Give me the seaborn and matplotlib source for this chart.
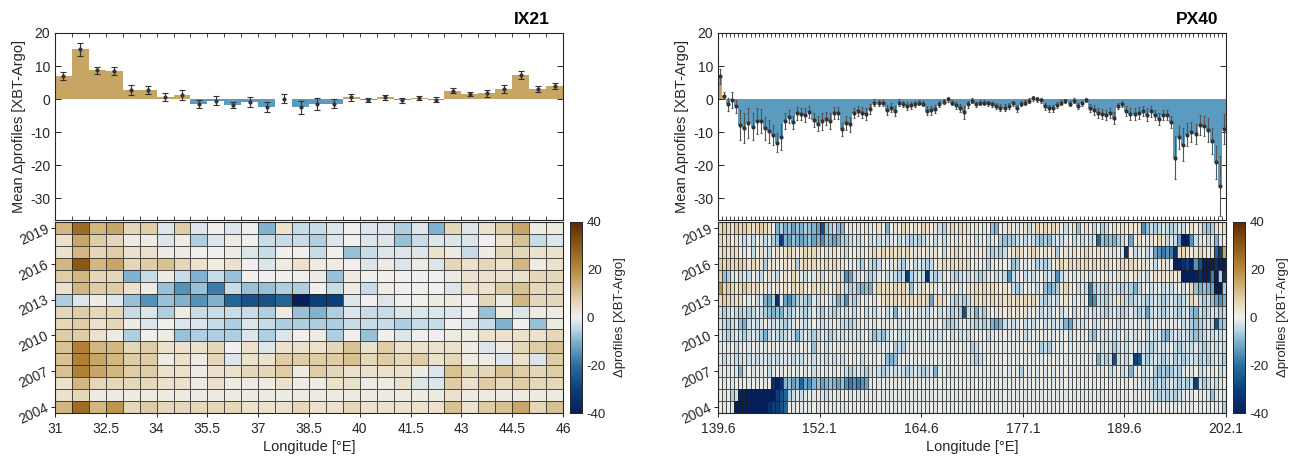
import numpy as np
import pandas as pd
import matplotlib
matplotlib.use("Agg")
import matplotlib.pyplot as plt
from matplotlib.colors import LinearSegmentedColormap
from matplotlib.ticker import FixedLocator
import seaborn as sns

# ------------------------------------------------------------------ data
years = [2019, 2018, 2017, 2016, 2015, 2014, 2013, 2012,
         2011, 2010, 2009, 2008, 2007, 2006, 2005, 2004]
year_ticks = [2019, 2016, 2013, 2010, 2007, 2004]

# IX21: 0.5 degree longitude bins from 31E to 46E
ix21_lon_start = 31.0
ix21_bin = 0.5
ix21_xticks = [31, 32.5, 34, 35.5, 37, 38.5, 40, 41.5, 43, 44.5, 46]
ix21_xticklabels = ["31", "32.5", "34", "35.5", "37", "38.5", "40", "41.5", "43", "44.5", "46"]
ix21_mean = [7.1, 15.1, 8.7, 8.4, 2.8, 2.8, 0.6, 1.2, -1.5, -0.4,
             -1.7, -0.9, -2.4, 0.2, -2.4, -1.4, -1.4, 0.6, -0.2, 0.6,
             -0.3, 0.4, -0.1, 2.6, 1.5, 1.8, 3.1, 7.3, 3.0, 4.0]
ix21_err = [1.2, 2.0, 1.0, 1.2, 1.5, 1.3, 1.2, 1.5, 1.2, 1.3,
            1.0, 1.5, 1.5, 1.3, 2.0, 1.8, 1.4, 1.0, 0.6, 0.8,
            0.8, 0.7, 0.8, 0.8, 0.6, 1.0, 1.2, 1.2, 0.9, 0.8]
# one string per year (2019 first), one character per longitude bin
ix21_rows = [
    ("fjfgcdAdA0A0EbBBA0AACAEcAbdgaa",),
    ("bgdcaaAaCAa0BBBCA0AADBAAA0beBA",),
    ("bfcdbbaa00aAB00B0DBAAAbaBaccbb",),
    ("fkfgcdecbab0Aabaa0AaAaAcbcbfab",),
    ("dfccEBaBEBD0000aDa00000abbbbcc",),
    ("bfddbaDGDHBDDCC0BaBa000Abbdecc",),
    ("CAaADGDEGEIJJIMKKA0A00aa0cafcc",),
    ("cdccBACaBBBBCaDECABBAAAA0DaAaa",),
    ("cdbcaA0AABCABCCCCBBBCBB0ABE0Da",),
    ("ddbaC0aDCCCACA0aC0D0A00aabbbbc",),
    ("eiffcdbbbc0bAbbbcebdbbbbaAacde",),
    ("eigfddabacAbbddddecdcdbcaaAbAd",),
    ("eigfddbbabbccdadcbbbbaAeccedcd",),
    ("bfccccbbabaaabaabbaabAAdbdcdcc",),
    ("bc" + "aaaaaaaaaaaaaaaaaaaaa" + "b" + "aaaaaa",),
    ("fjfhcdcccccbbbcbbcbbbbbebdegce",),
]
ix21_widths = [30]

# PX40: 0.5 degree longitude bins from 139.6E to 202.1E
px40_lon_start = 139.6
px40_bin = 0.5
px40_xticks = [139.6, 152.1, 164.6, 177.1, 189.6, 202.1]
px40_xticklabels = ["139.6", "152.1", "164.6", "177.1", "189.6", "202.1"]
px40_mean = [6.9, 1.1, -1.5, -0.3, -2.2, -7.9, -8.8, -7.1, -8.3, -6.6,
             -6.6, -8.8, -9.7, -10.8, -13.1, -11.5, -6.6, -5.3, -7.0, -4.3,
             -4.4, -4.8, -3.9, -6.3, -7.4, -6.7, -5.9, -6.6, -4.3, -4.3,
             -9.1, -7.2, -7.6, -4.3, -3.6, -4.1, -4.6, -3.0, -1.0, -1.2,
             -1.2, -3.3, -2.6, -3.7, -1.0, -1.4, -2.1, -1.9, -1.4, -1.0,
             -1.4, -3.5, -3.4, -3.0, -1.5, -0.8, 0.0, -1.0, -1.9, -2.7,
             -4.0, -1.6, -0.4, -1.5, -1.0, -1.0, -1.2, -1.6, -2.0, -2.6,
             -2.6, -2.1, -1.3, -2.8, -1.4, -1.0, -0.4, 0.3, 0.0, -0.3,
             -2.2, -2.8, -2.8, -1.8, -1.0, -0.6, -1.4, -0.4, -2.1, -1.2,
             -0.2, -2.6, -3.4, -4.2, -4.6, -4.8, -4.3, -5.7, -2.1, -1.5,
             -3.6, -4.4, -4.4, -4.3, -3.6, -4.7, -3.7, -4.8, -6.0, -4.8,
             -4.8, -6.9, -17.7, -11.5, -13.7, -10.7, -9.9, -10.5, -7.7, -8.2,
             -9.3, -12.7, -19.1, -26.3, -9.1]
px40_err = [2.2, 1.0, 2.0, 2.5, 2.0, 4.5, 4.5, 4.5, 4.0, 3.8,
            3.5, 3.5, 3.5, 3.0, 3.0, 4.0, 2.5, 2.0, 2.0, 2.0,
            1.8, 2.0, 1.8, 2.0, 2.2, 2.5, 2.0, 2.3, 1.8, 1.8,
            2.0, 2.0, 2.2, 1.5, 1.5, 1.6, 1.8, 1.5, 1.0, 1.0,
            1.0, 1.5, 1.3, 1.5, 1.0, 1.0, 1.3, 1.0, 1.0, 0.8,
            0.8, 1.3, 1.3, 1.2, 1.0, 0.8, 0.8, 0.8, 1.0, 1.3,
            2.0, 1.0, 0.7, 0.8, 0.8, 0.8, 0.8, 0.8, 0.9, 1.0,
            1.0, 0.9, 0.8, 1.0, 0.8, 0.8, 0.7, 0.7, 0.7, 0.7,
            1.0, 1.0, 1.0, 0.9, 0.8, 0.7, 0.8, 0.7, 0.9, 0.8,
            0.7, 1.2, 1.5, 1.5, 1.5, 1.5, 1.5, 1.8, 1.0, 1.0,
            1.5, 1.8, 1.8, 1.8, 1.5, 2.0, 1.6, 1.6, 1.8, 1.6,
            1.6, 1.8, 6.5, 3.5, 5.0, 3.5, 3.0, 3.0, 3.0, 3.0,
            3.5, 4.0, 5.0, 9.0, 4.5]
# each year is split into four blocks of bins (31, 31, 32, 31)
px40_widths = [31, 31, 32, 31]
px40_rows = [
    ("cdcbdcdcbcdcb" "a" "ECEDFDECDEFJDCBDE",
     "abaAabAaba" "E" "abacbabacbab" "BC" "bcbcbb",
     "abaAa" "DE" "aAbaAab" "B" "bcbcbcbaBab" "D" "abaBa",
     "CB" "abababab" "G" "DBCBABCBAB" "abab" "CDC" "bab"),
    ("cbcab" "ABABaABAC" "DK" "EFDEFEDFEGDEFEC",
     "CBABAaBABA" "BAaBABCBCB" "AaBABAaAbab",
     "aBAaBAa" "CDCC" "BABAB" "CDCD" "BABAaBABABA" "I",
     "DEDEC" "BA" "F" "abaAba" "cb" "BAB" "F" "MM" "G" "BAaBA" "E" "Aa"),
    ("bcbcbaAaBabAB" "a" "babcbabcbcbabAbab",
     "BaabAabcbc" "bcbcbcbAba" "bAbaBabcbab",
     "abab" "BCBCB" "abcbabcbabab" "C" "abAbabcbab",
     "aAbAaA" "L" "aBAaBA" "FGHGH" "L" "bcbabcbab" "IK" "g"),
    ("dcdccdcbcb" "b" "C" "aba" "abab" "C" "bcbcbbcbcbb",
     "aAaBCaBCBa" "aAbBCAaBAB" "CBabcbcbcbc",
     "aAaA" "C" "AaAaA" "DC" "aAaA" "CBCB" "abcbcbcbcbcb",
     "bcbabcbcbabAaBabAa" "MMLKMGJMMMLMM"),
    ("dDC" "AaBABaABabAB" "abacbABaAbBabAbB",
     "GF" "BAaBCBAaBABCB" "K" "CBAB" "L" "BCBAaBCBAB",
     "ABCBAaBAB" "G" "BAaBABAaBAB" "G" "BAaAaAaBAa",
     "abAabababAaBabababab" "MMMMLMM" "H" "M" "C" "L"),
    ("h" "cdcbcdcbc" "abAababa" "cbcbacbcbabcb",
     "BCB" "DEDE" "bcbcbcbcb" "D" "aAbabAaBabaBab",
     "bcbcbcbab" "aBCBaAaBa" "DEDC" "bcbaBAB" "H" "CB",
     "BCBABCBC" "E" "BAaBAaBABAaBa" "c" "DEDEF" "MM" "C"),
    ("cdccbc" "aAaBA" "EFC" "L" "A" "FGE" "CBCD" "ABAaABEC",
     "G" "BCB" "aAaAa" "bcbcbcbcbcbc" "F" "bcba" "BCBCB",
     "bcbcbcbcbcbcbcbcb" "BCBAB" "abaAaAa" "HG" "B",
     "BCBA" "bc" "BCBABCBABCBABCBA" "cb" "BCBD" "FGE"),
    ("BCBABCBCBABC" "DEDE" "BCBABCBABCABCBA",
     "BABAaBABAaBA" "E" "AaBAaBABAaBABCBC" "J" "B",
     "BEBC" "AaAbabababAaA" "BABAaBAaBAaBABA",
     "BCBABCBABCB" "F" "BABCBABCBA" "DE" "BCBABCB"),
    ("ABCBA" "DE" "BABAaABABCBAaABAaABAAaAB",
     "BCBAaAaAaAaAaBAaAaAaAaAaBCCBAaA",
     "BCBCB" "EFE" "BABAaBABAaBABAB" "EF" "BABAaBA",
     "AaAaBAaAaAaBAaAaAaAaBA" "CDC" "BAB" "J" "DC"),
    ("ABCBABCBABC" "E" "BABCBAB" "E" "BABCBABCBAB",
     "ABABAaB" "DCD" "BAaBABAaBAaBABAaBABAB",
     "AaAaBAaAaAaAaBAaAaAaAaAaBAaAa" "CD" "A",
     "ABABAaBABAaBABA" "DE" "BABAB" "CDC" "BABABA"),
    ("AaAaBAaAaAaAaAaAaAaAaAa" "D" "AaBAaAa",
     "AaAaAaAaAaAa" "CBC" "AaAaAaAaAaAaAaAa",
     "CB" "AaAaAaAaAaAaAaA" "CBC" "AaAaAaAaAaAa",
     "BABCBABAaBABCBABAaBCBABABCBABAB"),
    ("ABAAB" "B" "ABABAABABAAABABAABAABABAB",
     "AaAaBAaAaA" "DED" "AaAaAaAaAaAaAaAaAa",
     "BCB" "AaAaAaAaAaAaAaAaAaAaAaAaAaAa" "E",
     "BCB" "J" "BABA" "KJ" "BCBABCBA" "CBCBABCBCBABC"),
    ("AaAaA" "E" "AaAaAaBAaAaAaAaAaBAaAaAaA",
     "BCBABCBABCBABABCBABCBA" "E" "AaBAaAaA",
     "aAaAaAaAaAaA" "C" "aAaAaAaAaAaAaAaAaAa",
     "AaBAaBA" "E" "AaBAa" "CDCDCBC" "AaAaBAaAaBA"),
    ("aAaAaAaAaAaAa" "LML" "EDFEIFGEDFEDEFD",
     "GHGHGF" "AaAaAaAaAaAaAaAaAaAaAaAaA",
     "AaAaAaAaAaAaAaAaAaAaAaAaAaAaAaAa",
     "AaAaAaAaAaBA" "BCBCBABCBCB" "K" "BCBABAa"),
    ("aAaCB" "MMMMMMMMM" "KJI" "CBABAaAaABAaAa",
     "aAaAaAaAaAaAaAaAaAaAaAaAaAaAaAa",
     "aAaAaAaAaAaAaAaAaAaAaAaAaAaAaAaA",
     "AaAaAaAaAaAaA" "BCBCBCB" "AaAaAaA" "D" "AaA"),
    ("aAaA" "MMMMMMMMLKKJI" "aAaAaAaAaAaAaA",
     "AaAaAaAaAaAaAaAaAaAaAaAaAaAaAaA",
     "AaAaAaAaAaAaAaAaAaAaAaAaAaAaAaAa",
     "AaAaAaAaAaAaAaAaAaAaAaAaAaAaAaC"),
]

# value (XBT - Argo profile count difference) for each cell character
cell_code = {"0": 0,
             "a": 1.5, "b": 4, "c": 6, "d": 8, "e": 10, "f": 12, "g": 15,
             "h": 18, "i": 22, "j": 26, "k": 30, "l": 35, "m": 40,
             "A": -2, "B": -4, "C": -6, "D": -8, "E": -10, "F": -12, "G": -15,
             "H": -18, "I": -22, "J": -26, "K": -30, "L": -35, "M": -40}

# ------------------------------------------------------------------ style
sns.set_theme(style="ticks")
plt.rcParams["font.family"] = ["Liberation Sans", "DejaVu Sans"]
plt.rcParams["axes.unicode_minus"] = False
TEXT = "#262626"
plt.rcParams["text.color"] = TEXT
plt.rcParams["axes.labelcolor"] = TEXT
plt.rcParams["xtick.color"] = TEXT
plt.rcParams["ytick.color"] = TEXT

TAN = "#c6a565"
BLUE = "#5b9bc0"

cmap = LinearSegmentedColormap.from_list(
    "xbt_argo",
    [(0.000, "#08205a"), (0.125, "#0b3f7a"), (0.250, "#2a6fa0"),
     (0.375, "#80b1cf"), (0.4375, "#bcd6e4"), (0.500, "#f0f0ee"),
     (0.5625, "#e9ddc3"), (0.625, "#d9c395"), (0.750, "#b88a3e"),
     (0.875, "#8c5a14"), (1.000, "#5c2a06")])


def decode(rows, widths):
    grid = []
    for parts in rows:
        line = "".join(seg[:w].ljust(w, "0") for seg, w in zip(parts, widths))
        grid.append([cell_code[ch] for ch in line])
    return np.array(grid, dtype=float)


def style_box(ax):
    for s in ax.spines.values():
        s.set_visible(True)
        s.set_color(TEXT)
        s.set_linewidth(0.8)


def draw_panel(ax_bar, ax_map, cax, name, title_x, mean, err, grid,
               lon0, step, xticks, xticklabels, capsize, ecolor):
    n = len(mean)
    bars = pd.DataFrame({"bin": np.arange(n),
                         "mean": mean,
                         "sign": ["pos" if v >= 0 else "neg" for v in mean]})

    # mean difference per longitude bin
    sns.barplot(data=bars, x="bin", y="mean", hue="sign",
                hue_order=["pos", "neg"], palette={"pos": TAN, "neg": BLUE},
                dodge=False, width=1.0, saturation=1, legend=False,
                errorbar=None, linewidth=0, ax=ax_bar)
    ax_bar.errorbar(bars["bin"], bars["mean"], yerr=err, fmt="o",
                    color="#333333", ecolor=ecolor, ms=2.0,
                    elinewidth=0.8, capsize=capsize, capthick=0.8, zorder=5)
    ax_bar.set_xlim(-0.5, n - 0.5)
    ax_bar.set_ylim(-36.5, 20)
    ax_bar.set_xticks([])
    ax_bar.xaxis.set_minor_locator(FixedLocator(np.arange(n + 1) - 0.5))
    ax_bar.tick_params(axis="x", which="minor", top=True, bottom=True,
                       direction="in", length=3, width=0.6)
    ax_bar.set_yticks([-30, -20, -10, 0, 10, 20])
    ax_bar.tick_params(axis="y", which="major", left=True, right=True,
                       direction="in", length=4, width=0.7, labelsize=10)
    ax_bar.set_xlabel("")
    ax_bar.set_ylabel("Mean \u0394profiles [XBT-Argo]", fontsize=10.5, labelpad=3)
    style_box(ax_bar)

    # yearly differences per longitude bin
    table = pd.DataFrame(grid, index=years,
                         columns=[f"{lon0 + step * i:.2f}" for i in range(n)])
    sns.heatmap(table, ax=ax_map, cmap=cmap, vmin=-40, vmax=40,
                linewidths=0.5, linecolor=(0.1, 0.1, 0.1, 0.75),
                cbar_ax=cax, cbar_kws={"ticks": [-40, -20, 0, 20, 40]})
    ax_map.set_xticks([(x - lon0) / step for x in xticks])
    ax_map.set_xticklabels(xticklabels, rotation=0, fontsize=10)
    ax_map.xaxis.set_minor_locator(FixedLocator(np.arange(n + 1)))
    ax_map.tick_params(axis="x", which="major", bottom=True, top=False,
                       direction="out", length=3, width=0.7)
    ax_map.tick_params(axis="x", which="minor", bottom=False, top=True,
                       direction="in", length=3, width=0.6)
    ax_map.set_yticks([years.index(y) + 0.5 for y in year_ticks])
    ax_map.set_yticklabels([str(y) for y in year_ticks], rotation=25,
                           fontsize=10, ha="right", va="center",
                           rotation_mode="anchor")
    ax_map.tick_params(axis="y", which="major", left=True, direction="out",
                       length=3, width=0.7, pad=2)
    ax_map.set_xlabel("Longitude [\u00b0E]", fontsize=10.5, labelpad=3)
    ax_map.set_ylabel("")
    style_box(ax_map)

    cax.tick_params(direction="in", length=3, width=0.6, labelsize=9.5,
                    right=True, left=False)
    cax.set_ylabel("\u0394profiles [XBT-Argo]", fontsize=9.5, labelpad=6)
    cax.yaxis.set_label_position("right")
    for s in cax.spines.values():
        s.set_visible(True)
        s.set_color(TEXT)
        s.set_linewidth(0.7)

    ax_bar.figure.text(title_x, 1 - 20 / 459, name, ha="right", va="center",
                       fontsize=12.5, fontweight="bold", color="black")


# ------------------------------------------------------------------ figure
W_PX, H_PX = 1297, 459
fig = plt.figure(figsize=(W_PX / 100, H_PX / 100), dpi=100)
fig.patch.set_facecolor("white")

axis_w = 508 / W_PX
bar_y0, bar_h = 1 - 220 / H_PX, (220 - 33) / H_PX
map_y0, map_h = 1 - 413 / H_PX, (413 - 222) / H_PX

ax_bar1 = fig.add_axes([55 / W_PX, bar_y0, axis_w, bar_h])
ax_map1 = fig.add_axes([55 / W_PX, map_y0, axis_w, map_h])
cax1 = fig.add_axes([570 / W_PX, map_y0, 12 / W_PX, map_h])

ax_bar2 = fig.add_axes([718 / W_PX, bar_y0, axis_w, bar_h])
ax_map2 = fig.add_axes([718 / W_PX, map_y0, axis_w, map_h])
cax2 = fig.add_axes([1233 / W_PX, map_y0, 12 / W_PX, map_h])

draw_panel(ax_bar1, ax_map1, cax1, "IX21", 550 / W_PX,
           ix21_mean, ix21_err, decode(ix21_rows, ix21_widths),
           ix21_lon_start, ix21_bin, ix21_xticks, ix21_xticklabels,
           capsize=2.2, ecolor="#333333")
draw_panel(ax_bar2, ax_map2, cax2, "PX40", 1218 / W_PX,
           px40_mean, px40_err, decode(px40_rows, px40_widths),
           px40_lon_start, px40_bin, px40_xticks, px40_xticklabels,
           capsize=0.8, ecolor="#555555")

fig.savefig("out.png", dpi=100)
